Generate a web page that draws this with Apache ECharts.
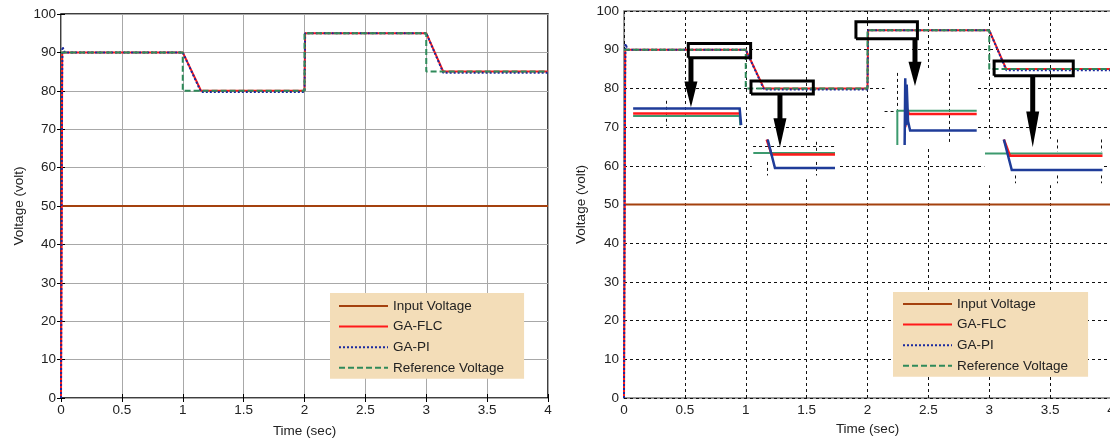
<!DOCTYPE html>
<html lang="en">
<head>
<meta charset="utf-8">
<title>Voltage response</title>
<script src="https://cdn.jsdelivr.net/npm/echarts@6/dist/echarts.min.js"></script>
<style>
  html, body { margin: 0; padding: 0; background: #fff; }
  #chart { width: 1110px; height: 439px; }
</style>
</head>
<body>
<div id="chart"></div>
<script>
// main traces, [time (sec), voltage (volt)]
var inputVoltage = [[0, 50], [4, 50]];
var gaFlc = [[0, 0], [0.006, 47], [0.01, 90], [1, 90], [1.15, 80], [2, 80], [2.005, 95], [3, 95], [3.14, 85], [4, 85]];
var gaPi = [[0, 0], [0.008, 80], [0.012, 91.5], [0.03, 90], [1, 90], [1.15, 79.7], [2, 79.7], [2.005, 95], [3, 95], [3.14, 84.7], [4, 84.7]];
var refVoltage = [[0, 90], [1, 90], [1, 80], [2, 80], [2, 95], [3, 95], [3, 85], [4, 85]];

// zoom annotations on the right plot (data units)
var zoomBoxes = [[0.528, 1.04, 87.9, 91.6], [1.043, 1.555, 78.55, 81.9], [1.905, 2.41, 92.8, 97.2], [3.04, 3.69, 83.3, 87.1]];
// [t, v start, v head, v tip]
var zoomArrows = [[0.55, 87.9, 81.8, 75.1], [1.281, 78.55, 72.3, 64.8], [2.39, 92.8, 86.9, 80.6], [3.357, 83.3, 74.0, 64.8]];
// [t1, t2, v1, v2] white patches of the pasted insets
var insetBlanks = [[1.05, 1.75, 56.5, 66.5], [2.14, 2.9, 65, 84.5], [2.96, 3.93, 55, 67]];

var insetFlc = [
  [[0.075, 73.5], [0.95, 73.5]],
  [[1.172, 66.8], [1.213, 62.9], [1.733, 62.9]],
  [[2.31, 70], [2.325, 74.6], [2.34, 73.4], [2.897, 73.4]],
  [[3.12, 66.8], [3.17, 62.6], [3.93, 62.6]]
];
var insetPi = [
  [[0.075, 74.8], [0.95, 74.8], [0.962, 70.5]],
  [[1.18, 66.8], [1.24, 59.4], [1.733, 59.4]],
  [[2.305, 65.4], [2.31, 82.6], [2.317, 70.5], [2.322, 81], [2.333, 71.5], [2.35, 69.1], [2.897, 69.1]],
  [[3.12, 66.8], [3.185, 58.9], [3.93, 58.9]]
];
var insetRef = [
  [[0.075, 72.9], [0.95, 72.9], [0.955, 70.5]],
  [[1.062, 63.3], [1.733, 63.3]],
  [[2.245, 65.4], [2.245, 74.2], [2.897, 74.2]],
  [[2.965, 63.2], [3.93, 63.2]]
];
var insetGrid = [
  [[0.35, 76.8], [0.35, 70.3]],
  [[1.06, 65], [1.733, 65]], [[1.18, 61], [1.18, 57.5]], [[1.58, 66.2], [1.58, 63.6]], [[1.58, 61], [1.58, 57.5]],
  [[2.14, 74.2], [2.245, 74.2]], [[2.245, 84], [2.245, 74.5]], [[2.67, 84], [2.67, 65.4]],
  [[3.21, 57.5], [3.21, 55.5]], [[3.56, 66.8], [3.56, 63.6]], [[3.56, 57.5], [3.56, 55.5]],
  [[3.92, 66.8], [3.92, 63.6]], [[3.92, 57.5], [3.92, 55.5]]
];

var legendNames = ['Input Voltage', 'GA-FLC', 'GA-PI', 'Reference Voltage'];
var FONT = 'Liberation Sans, Arial, sans-serif';
var FS = 13.5;
var cBrown = '#a4410e', cRed = '#ff1a1a', cBlue = '#1a2a9e', cGreen = '#2f8a5a';

function xAx(grid, pos, main, dashed) {
  return {
    type: 'value', gridIndex: grid, position: pos, min: 0, max: 4, interval: 0.5,
    name: main ? 'Time (sec)' : '', nameLocation: 'middle', nameGap: dashed ? 24 : 26,
    nameTextStyle: { fontFamily: FONT, fontSize: FS, color: '#222' },
    axisLine: { show: false },
    axisTick: { show: !dashed, inside: true, length: 4, lineStyle: { color: '#000' } },
    axisLabel: { show: main, fontFamily: FONT, fontSize: FS, color: '#222', margin: 5 },
    splitLine: { show: main, lineStyle: dashed ? { color: '#111', type: [3, 3], width: 1 } : { color: '#a8a8a8', width: 1 } }
  };
}
function yAx(grid, pos, main, dashed) {
  return {
    type: 'value', gridIndex: grid, position: pos, min: 0, max: 100, interval: 10,
    name: main ? 'Voltage (volt)' : '', nameLocation: 'middle', nameGap: dashed ? 36 : 35, nameRotate: 90,
    nameTextStyle: { fontFamily: FONT, fontSize: FS, color: '#222' },
    axisLine: { show: false },
    axisTick: { show: !dashed, inside: true, length: 4, lineStyle: { color: '#000' } },
    axisLabel: { show: main, fontFamily: FONT, fontSize: FS, color: '#222', margin: 5 },
    splitLine: { show: main, lineStyle: dashed ? { color: '#111', type: [3, 3], width: 1 } : { color: '#a8a8a8', width: 1 } }
  };
}

function mainSeries(g) {
  return [
    { name: 'Input Voltage', data: inputVoltage, color: cBrown, lineStyle: { color: cBrown, width: 2 } },
    { name: 'GA-FLC', data: gaFlc, color: cRed, lineStyle: { color: cRed, width: 2 } },
    { name: 'GA-PI', data: gaPi, color: cBlue, lineStyle: { color: cBlue, width: 2, type: [2, 2] } },
    { name: 'Reference Voltage', data: refVoltage, color: cGreen, lineStyle: { color: cGreen, width: 2, type: [6, 3] } }
  ].map(function (s) {
    s.type = 'line';
    s.xAxisIndex = g; s.yAxisIndex = g;
    s.showSymbol = false; s.symbol = 'none';
    s.z = 3;
    return s;
  });
}

function linesSeries(list, color, width, type, polyline, z) {
  return {
    type: 'lines', coordinateSystem: 'cartesian2d', xAxisIndex: 1, yAxisIndex: 1,
    polyline: polyline, silent: true, z: z,
    lineStyle: { color: color, width: width, type: type, opacity: 1, curveness: 0, join: 'miter' },
    data: list.map(function (c) { return { coords: c }; })
  };
}

var boxPaths = zoomBoxes.map(function (b) {
  return [[b[0], b[2]], [b[1], b[2]], [b[1], b[3]], [b[0], b[3]], [b[0], b[2]]];
});

var series = [];
// white patches under the insets
series.push({
  name: 'blank', type: 'line', xAxisIndex: 1, yAxisIndex: 1, data: inputVoltage,
  showSymbol: false, symbol: 'none', lineStyle: { opacity: 0 }, z: 1, silent: true,
  markArea: {
    silent: true,
    itemStyle: { color: '#fff', opacity: 1 },
    label: { show: false },
    data: insetBlanks.map(function (b) { return [{ coord: [b[0], b[3]] }, { coord: [b[1], b[2]] }]; })
  }
});
series = series.concat(mainSeries(0), mainSeries(1));
series.push(linesSeries(insetGrid, '#111', 1, [3, 3], false, 4));
series.push(linesSeries(insetRef, '#3c9a6e', 2, 'solid', true, 5));
series.push(linesSeries(insetFlc, cRed, 2.5, 'solid', true, 6));
series.push(linesSeries(insetPi, '#1f3c99', 2.5, 'solid', true, 7));
series.push(linesSeries(boxPaths, '#000', 3, 'solid', true, 8));
series.push({
  type: 'custom', xAxisIndex: 1, yAxisIndex: 1, z: 9, silent: true,
  data: zoomArrows,
  renderItem: function (params, api) {
    var t = api.value(0);
    var p0 = api.coord([t, api.value(1)]);
    var ph = api.coord([t, api.value(2)]);
    var pt = api.coord([t, api.value(3)]);
    return {
      type: 'group',
      children: [
        { type: 'rect', shape: { x: p0[0] - 2.5, y: p0[1], width: 5, height: ph[1] - p0[1] + 1 }, style: { fill: '#000' } },
        { type: 'polygon', shape: { points: [[ph[0] - 6.5, ph[1]], [ph[0] + 6.5, ph[1]], [pt[0], pt[1]]] }, style: { fill: '#000' } }
      ]
    };
  }
});

function legendAt(left, top, pad) {
  return {
    data: legendNames, orient: 'vertical', left: left, top: top,
    itemWidth: 49, itemHeight: 14, itemGap: 6.6, padding: pad,
    backgroundColor: '#f3ddb8', selectedMode: false,
    itemStyle: { opacity: 0 },
    textStyle: { fontFamily: FONT, fontSize: FS, color: '#222' }
  };
}

var chart = echarts.init(document.getElementById('chart'));
chart.setOption({
  animation: false,
  backgroundColor: '#fff',
  grid: [
    { left: 61, top: 14, width: 487, height: 384, show: true, borderColor: '#000', borderWidth: 1.5, outerBoundsMode: 'none', containLabel: false },
    { left: 624, top: 11, width: 487, height: 387, show: true, borderColor: '#7a7a7a', borderWidth: 1.5, outerBoundsMode: 'none', containLabel: false }
  ],
  xAxis: [xAx(0, 'bottom', true, false), xAx(1, 'bottom', true, true), xAx(0, 'top', false, false)],
  yAxis: [yAx(0, 'left', true, false), yAx(1, 'left', true, true), yAx(0, 'right', false, false)],
  legend: [legendAt(330, 293, [6, 20, 4, 8]), legendAt(893, 292, [5, 20, 4, 9])],
  series: series
});
</script>
</body>
</html>
